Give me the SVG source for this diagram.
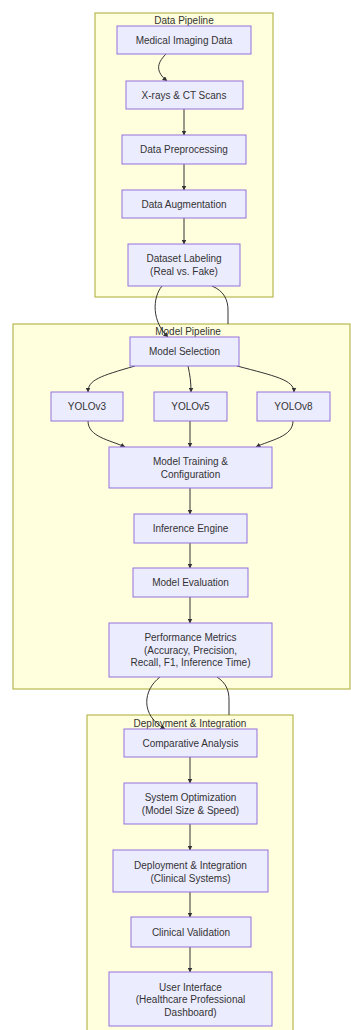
<svg xmlns="http://www.w3.org/2000/svg" width="351" height="1030" viewBox="0 0 351 1030">
<style>
.cluster rect{fill:#ffffde;stroke:#aaaa33;stroke-width:1}
.node rect{fill:#ececff;stroke:#9370db;stroke-width:1}
text{font-family:"Liberation Sans",Arial,sans-serif;font-size:10px;fill:#333;text-anchor:middle;dominant-baseline:central}
.edge{fill:none;stroke:#333;stroke-width:1}
</style>
<defs>
<marker id="arr" viewBox="0 0 10 10" refX="9" refY="5" markerWidth="5" markerHeight="5" markerUnits="userSpaceOnUse" orient="auto">
<path d="M0,0 L10,5 L0,10 z" fill="#333"/>
</marker>
</defs>
<rect width="351" height="1030" fill="#fff"/>
<g id="cluster-data" class="cluster"><rect x="95" y="13" width="178" height="284"/><text x="184" y="20">Data Pipeline</text></g>
<g id="cluster-model" class="cluster"><rect x="13" y="324" width="337" height="365"/><text x="188" y="331">Model Pipeline</text></g>
<g id="cluster-deploy" class="cluster"><rect x="87" y="715" width="206" height="320"/><text x="190" y="723">Deployment &amp; Integration</text></g>

<g id="connectors">
<path class="edge" d="M166,54 C156,64 156,72 167,81" marker-end="url(#arr)"/>
<path class="edge" d="M184,109 L184,135" marker-end="url(#arr)"/>
<path class="edge" d="M184,164 L184,190" marker-end="url(#arr)"/>
<path class="edge" d="M184,218 L184,244" marker-end="url(#arr)"/>
<path class="edge" d="M162,286 C152,298 152,322 168,337" marker-end="url(#arr)"/>
<path class="edge" d="M212,286 C224,291 228,300 228,310 L228,324"/>
<path class="edge" d="M135,366 C100,376 88,380 88,392" marker-end="url(#arr)"/>
<path class="edge" d="M188,366 C190,375 191,382 191,392" marker-end="url(#arr)"/>
<path class="edge" d="M237,366 C275,376 294,380 294,392" marker-end="url(#arr)"/>
<path class="edge" d="M88,421 C88,437 110,440 125,447" marker-end="url(#arr)"/>
<path class="edge" d="M190,421 L190,447" marker-end="url(#arr)"/>
<path class="edge" d="M293,421 C293,437 270,440 256,447" marker-end="url(#arr)"/>
<path class="edge" d="M190,488 L190,514" marker-end="url(#arr)"/>
<path class="edge" d="M190,543 L190,568" marker-end="url(#arr)"/>
<path class="edge" d="M190,597 L190,623" marker-end="url(#arr)"/>
<path class="edge" d="M160,677 C143,690 140,715 165,729" marker-end="url(#arr)"/>
<path class="edge" d="M217,677 C226,683 229,690 229,700 L229,715"/>
<path class="edge" d="M190,757 L190,783" marker-end="url(#arr)"/>
<path class="edge" d="M190,824 L190,850" marker-end="url(#arr)"/>
<path class="edge" d="M190,892 L190,917" marker-end="url(#arr)"/>
<path class="edge" d="M190,947 L190,972" marker-end="url(#arr)"/>
</g>

<g id="n-medical" class="node"><rect x="117" y="26" width="134" height="28"/><text x="184" y="40">Medical Imaging Data</text></g>
<g id="n-xrays" class="node"><rect x="126" y="81" width="117" height="28"/><text x="184" y="95">X-rays &amp; CT Scans</text></g>
<g id="n-preproc" class="node"><rect x="122" y="135" width="124" height="29"/><text x="184" y="149.5">Data Preprocessing</text></g>
<g id="n-augment" class="node"><rect x="122" y="190" width="124" height="28"/><text x="184" y="204">Data Augmentation</text></g>
<g id="n-labeling" class="node"><rect x="128" y="244" width="112" height="42"/><text x="184" y="258.5">Dataset Labeling</text><text x="184" y="271.5">(Real vs. Fake)</text></g>

<g id="n-selection" class="node"><rect x="130" y="337" width="109" height="29"/><text x="184.5" y="351.5">Model Selection</text></g>
<g id="n-yolov3" class="node"><rect x="51" y="392" width="72" height="29"/><text x="87" y="406.5">YOLOv3</text></g>
<g id="n-yolov5" class="node"><rect x="154" y="392" width="73" height="29"/><text x="190.5" y="406.5">YOLOv5</text></g>
<g id="n-yolov8" class="node"><rect x="257" y="392" width="73" height="29"/><text x="293.5" y="406.5">YOLOv8</text></g>
<g id="n-training" class="node"><rect x="109" y="447" width="163" height="41"/><text x="190.5" y="461">Model Training &amp;</text><text x="190.5" y="474">Configuration</text></g>
<g id="n-inference" class="node"><rect x="134" y="514" width="113" height="29"/><text x="190.5" y="528.5">Inference Engine</text></g>
<g id="n-evaluation" class="node"><rect x="133" y="568" width="115" height="29"/><text x="190.5" y="582.5">Model Evaluation</text></g>
<g id="n-metrics" class="node"><rect x="109" y="623" width="163" height="54"/><text x="190.5" y="637.5">Performance Metrics</text><text x="190.5" y="650">(Accuracy, Precision,</text><text x="190.5" y="662.5">Recall, F1, Inference Time)</text></g>

<g id="n-comparative" class="node"><rect x="124" y="729" width="133" height="28"/><text x="190.5" y="743">Comparative Analysis</text></g>
<g id="n-optimization" class="node"><rect x="124" y="783" width="133" height="41"/><text x="190.5" y="797">System Optimization</text><text x="190.5" y="810">(Model Size &amp; Speed)</text></g>
<g id="n-deployment" class="node"><rect x="113" y="850" width="155" height="42"/><text x="190.5" y="865">Deployment &amp; Integration</text><text x="190.5" y="878">(Clinical Systems)</text></g>
<g id="n-validation" class="node"><rect x="131" y="917" width="120" height="30"/><text x="191" y="932">Clinical Validation</text></g>
<g id="n-ui" class="node"><rect x="109" y="972" width="163" height="54"/><text x="190.5" y="987">User Interface</text><text x="190.5" y="999.5">(Healthcare Professional</text><text x="190.5" y="1012">Dashboard)</text></g>
</svg>
